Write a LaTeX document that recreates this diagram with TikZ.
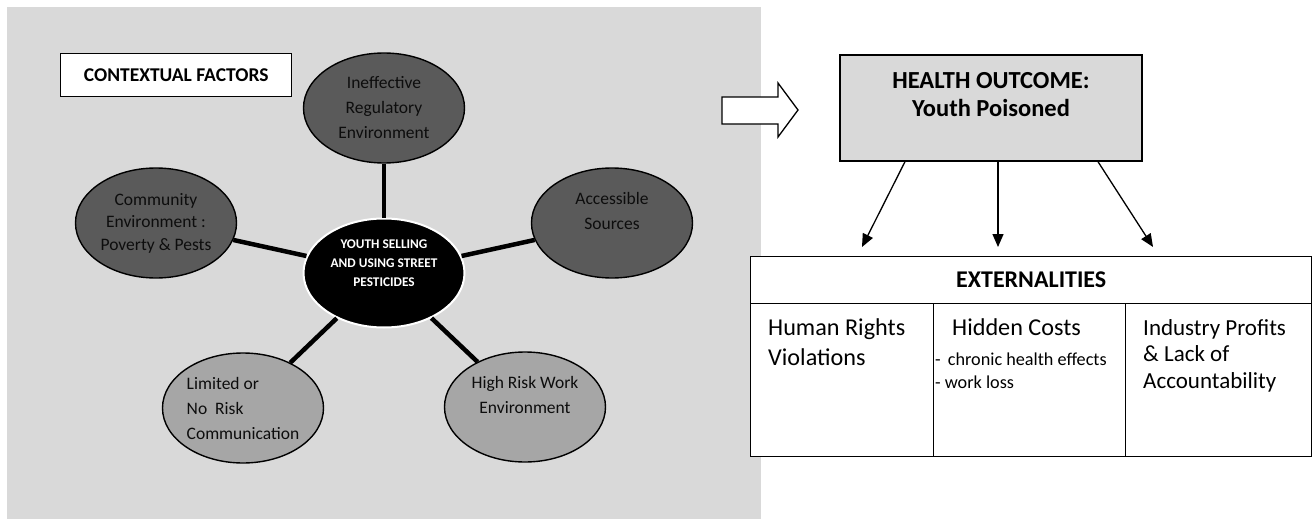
\documentclass[tikz,border=0pt]{standalone}
\usepackage{fontspec}
\setmainfont{Carlito}
\usetikzlibrary{shapes.geometric, arrows.meta, positioning}

\definecolor{panelgray}{HTML}{D9D9D9}
\definecolor{factordark}{HTML}{5A5A5A}
\definecolor{factorlight}{HTML}{A6A6A6}

\tikzset{
  factor/.style={ellipse, draw=black, line width=1.4pt, minimum width=161pt, minimum height=110pt,
    inner sep=0pt, align=center, text=black!95, font=\fontsize{17.5}{25}\selectfont},
  darkfactor/.style={factor, fill=factordark},
  lightfactor/.style={factor, fill=factorlight},
  hub/.style={ellipse, fill=black, draw=white, line width=2pt, minimum width=161pt, minimum height=109pt,
    inner sep=0pt, align=center, text=white, font=\bfseries\fontsize{13.3}{19}\selectfont},
  spoke/.style={line width=4.5pt},
  cell/.style={rectangle, draw=black, line width=1.4pt, fill=white, inner sep=0pt, anchor=north west},
  celltext/.style={anchor=north west, inner sep=0pt, align=left},
  outflow/.style={line width=1.3pt, -{Triangle[length=13pt,width=11pt]}}
}

\begin{document}
\begin{tikzpicture}[x=1pt,y=-1pt]
\useasboundingbox (0,0) rectangle (1312,519);

% Contextual factors panel
\fill[panelgray] (7,7) rectangle (761,519);
\node[cell, minimum width=231pt, minimum height=43pt, font=\bfseries\fontsize{19.5}{24}\selectfont] (ctx) at (60,53) {CONTEXTUAL FACTORS};

\node[darkfactor] (ineff) at (384,108) {Ineffective\\Regulatory\\Environment};
\node[darkfactor, font=\fontsize{17.5}{22.5}\selectfont] (commun) at (156,223) {Community\\Environment :\\Poverty \& Pests};
\node[darkfactor] (access) at (612,223) {Accessible\\Sources\\ \mbox{}};
\node[lightfactor] (highrisk) at (525,407) {High Risk Work\\Environment\\ \mbox{}};
\node[lightfactor, align=left] (limited) at (243,408) {Limited or\\No\ \ Risk\\Communication};
\node[hub] (hub) at (384,273) {YOUTH SELLING\\AND USING STREET\\PESTICIDES\\ \mbox{}};

\foreach \f in {ineff,commun,access,highrisk,limited}
  \draw[spoke] (hub) -- (\f);

% Health outcome
\draw[line width=1.3pt, fill=white] (722,97) -- (778,97) -- (778,83) -- (798,110)
  -- (778,137) -- (778,124) -- (722,124) -- cycle;
\node[rectangle, draw=black, line width=1.4pt, fill=panelgray, minimum width=302pt, minimum height=106pt,
  align=center, font=\bfseries\fontsize{24.5}{28}\selectfont] (health) at (991,108) {HEALTH OUTCOME:\\Youth Poisoned\\ \mbox{}};

% Externalities
\node[cell, minimum width=561pt, minimum height=47pt, font=\bfseries\fontsize{24}{28}\selectfont] (ext) at (750,256) {EXTERNALITIES};
\node[cell, minimum width=183pt, minimum height=153pt] (colA) at (750,303) {};
\node[cell, minimum width=192pt, minimum height=153pt] (colB) at (933,303) {};
\node[cell, minimum width=186pt, minimum height=153pt] (colC) at (1125,303) {};

\node[celltext, font=\fontsize{24.2}{30}\selectfont] (rights) at (768,318) {Human Rights\\Violations};
\node[celltext, font=\fontsize{24.2}{28}\selectfont] (costs) at (952,318) {Hidden Costs};
\node[celltext, font=\fontsize{18.2}{23}\selectfont] (costlist) at (935,353) {-\ \,chronic health effects\\- work loss};
\node[celltext, font=\fontsize{23}{26.5}\selectfont] (profits) at (1143,319) {Industry Profits\\\& Lack of\\Accountability};

\coordinate (dropA) at (862,247);
\coordinate (dropB) at (998,247);
\coordinate (dropC) at (1153,247);
\draw[outflow] ([xshift=-86pt]health.south) -- (dropA);
\draw[outflow] ([xshift=7pt]health.south) -- (dropB);
\draw[outflow] ([xshift=107pt]health.south) -- (dropC);
\end{tikzpicture}
\end{document}
